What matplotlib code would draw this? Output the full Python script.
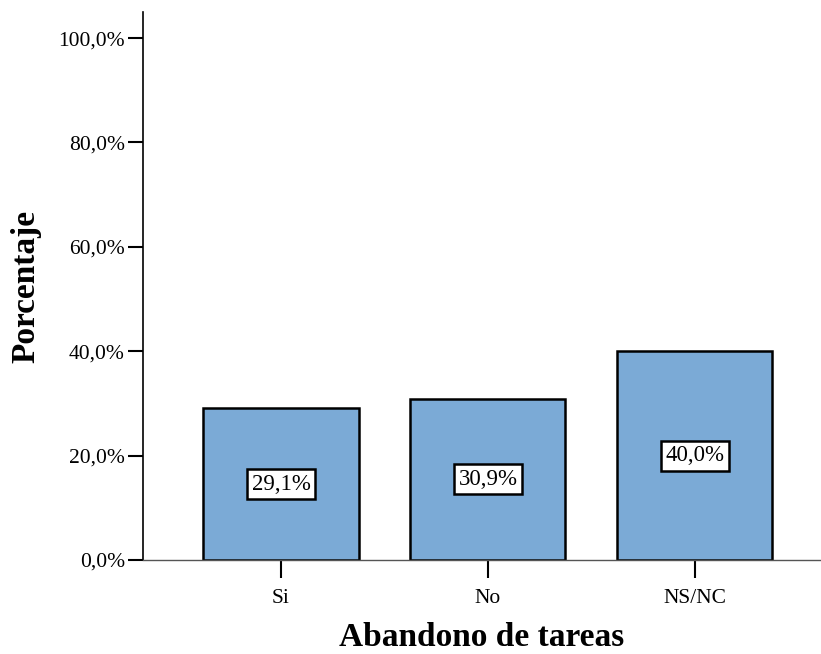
import numpy as np
import matplotlib.pyplot as plt

categorias = ['Si', 'No', 'NS/NC']
porcentajes = [29.1, 30.9, 40.0]
etiquetas = ['29,1%', '30,9%', '40,0%']
yticks = [0, 20, 40, 60, 80, 100]
ytick_labels = ['0,0%', '20,0%', '40,0%', '60,0%', '80,0%', '100,0%']

plt.rcParams['font.family'] = ['Liberation Serif', 'DejaVu Serif']

fig = plt.figure(figsize=(8.21, 6.54), dpi=100)
ax = fig.add_axes([143 / 821, (654 - 560) / 654, (821 - 143) / 821, (560 - 12) / 654])

x = np.arange(len(categorias))
ax.bar(x, porcentajes, width=0.75, color='#7BAAD6', edgecolor='black', linewidth=1.8, zorder=2)

for xi, v, t in zip(x, porcentajes, etiquetas):
    ax.text(xi, v / 2, t, ha='center', va='center', fontsize=16.5, zorder=3,
            bbox=dict(boxstyle='square,pad=0.2', facecolor='white', edgecolor='black', linewidth=1.8))

ax.set_xlim(-0.667, 2.61)
ax.set_ylim(0, 105)
ax.set_xticks(x)
ax.set_xticklabels(categorias, fontsize=15.5)
ax.set_yticks(yticks)
ax.set_yticklabels(ytick_labels, fontsize=15.5)
ax.tick_params(axis='x', length=13, width=1.5, pad=8)
ax.tick_params(axis='y', length=11, width=1.5, pad=2)

ax.spines['top'].set_visible(False)
ax.spines['right'].set_visible(False)
ax.spines['left'].set_linewidth(1.2)
ax.spines['bottom'].set_linewidth(1.0)
ax.spines['bottom'].set_color('#555555')

ax.set_xlabel('Abandono de tareas', fontsize=24, fontweight='bold', labelpad=10)
ax.set_ylabel('Porcentaje', fontsize=24, fontweight='bold', labelpad=12)

fig.savefig('out.png', dpi=100)
